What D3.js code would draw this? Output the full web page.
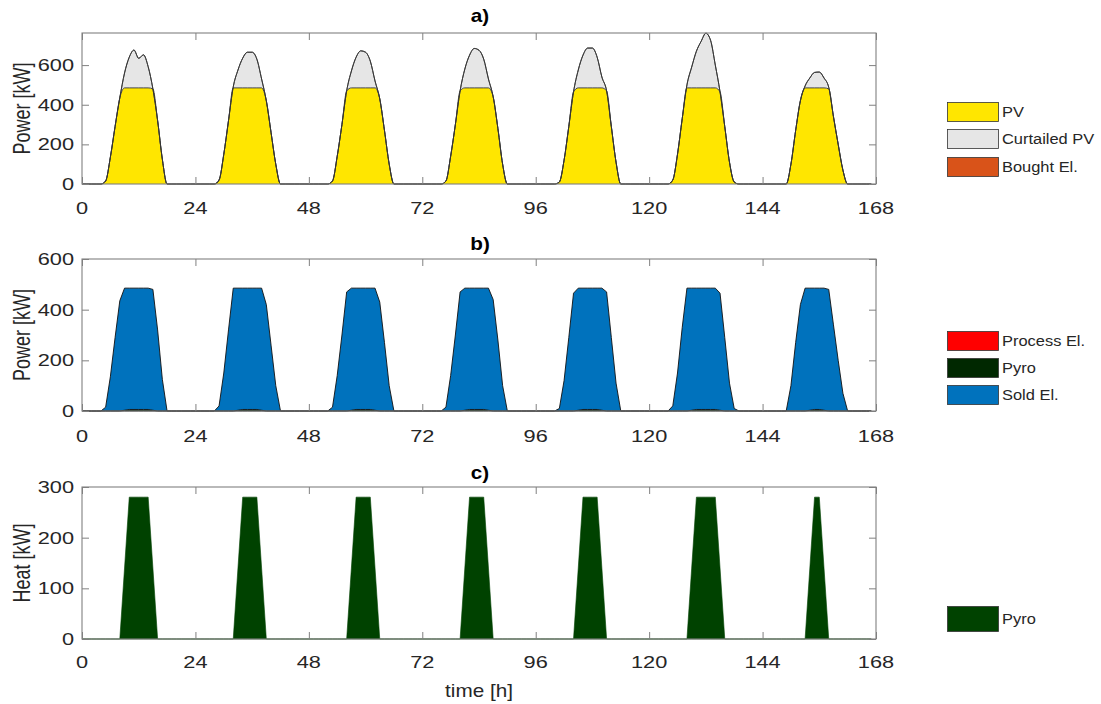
<!DOCTYPE html>
<html><head><meta charset="utf-8">
<script src="https://cdn.jsdelivr.net/npm/d3@7"></script>
<style>body{margin:0;background:#fff} text{font-family:"Liberation Sans",Arial,sans-serif;fill:#262626}</style>
</head><body><svg id="chart" width="1101" height="704"></svg>
<script>
// ---- data (hourly, hours of day 4..19 for each of the 7 days; all other hours are 0) ----
const hoursOfDay = [4,5,6,7,8,9,10,11,12,13,14,15,16,17,18,19];
const xTicks = [0,24,48,72,96,120,144,168];

const pvUsed = [
  [0,15,135,290,435,485,485,485,485,485,485,480,320,125,0,0],
  [0,20,150,320,485,485,485,485,485,485,485,420,260,100,0,0],
  [0,15,140,300,470,485,485,485,485,485,485,430,270,100,0,0],
  [0,15,140,300,470,485,485,485,485,485,485,440,280,100,0,0],
  [0,10,120,290,465,485,485,485,485,485,485,470,290,110,0,0],
  [0,20,150,330,485,485,485,485,485,485,485,465,290,110,10,0],
  [0,0,100,270,420,485,485,485,485,485,480,340,200,70,0,0]
];
const curtailedPV = [
  [0,0,0,0,0,75,155,191,149,167,107,0,0,0,0,0],
  [0,0,0,0,5,90,150,180,180,145,45,0,0,0,0,0],
  [0,0,0,0,0,85,155,187,180,135,35,0,0,0,0,0],
  [0,0,0,0,0,95,165,199,190,145,45,0,0,0,0,0],
  [0,0,0,0,0,90,165,201,201,155,55,0,0,0,0,0],
  [0,0,0,0,15,105,185,235,276,240,115,0,0,0,0,0],
  [0,0,0,0,0,10,50,78,80,50,8,0,0,0,0,0]
];
const boughtEl = [
  [0,0,0,0,0,0,0,0,0,0,0,0,0,0,0,0],[0,0,0,0,0,0,0,0,0,0,0,0,0,0,0,0],
  [0,0,0,0,0,0,0,0,0,0,0,0,0,0,0,0],[0,0,0,0,0,0,0,0,0,0,0,0,0,0,0,0],
  [0,0,0,0,0,0,0,0,0,0,0,0,0,0,0,0],[0,0,0,0,0,0,0,0,0,0,0,0,0,0,0,0],
  [0,0,0,0,0,0,0,0,0,0,0,0,0,0,0,0]
];
const processEl = [
  [0,0,0,0,0,0,0,0,0,0,0,0,0,0,0,0],[0,0,0,0,0,0,0,0,0,0,0,0,0,0,0,0],
  [0,0,0,0,0,0,0,0,0,0,0,0,0,0,0,0],[0,0,0,0,0,0,0,0,0,0,0,0,0,0,0,0],
  [0,0,0,0,0,0,0,0,0,0,0,0,0,0,0,0],[0,0,0,0,0,0,0,0,0,0,0,0,0,0,0,0],
  [0,0,0,0,0,0,0,0,0,0,0,0,0,0,0,0]
];
const pyroEl = [
  [0,0,0,0,0,3,6,6,6,6,6,3,0,0,0,0],
  [0,0,0,0,0,3,6,6,6,6,3,0,0,0,0,0],
  [0,0,0,0,0,3,6,6,6,6,3,0,0,0,0,0],
  [0,0,0,0,0,3,6,6,6,6,3,0,0,0,0,0],
  [0,0,0,0,0,3,6,6,6,6,3,0,0,0,0,0],
  [0,0,0,0,0,3,6,6,6,6,6,3,0,0,0,0],
  [0,0,0,0,0,0,3,6,6,3,0,0,0,0,0,0]
];
const soldEl = [
  [0,15,135,290,435,482,479,479,479,479,479,477,320,125,0,0],
  [0,20,150,320,485,482,479,479,479,479,482,420,260,100,0,0],
  [0,15,140,300,470,482,479,479,479,479,482,430,270,100,0,0],
  [0,15,140,300,470,482,479,479,479,479,482,440,280,100,0,0],
  [0,10,120,290,465,482,479,479,479,479,482,470,290,110,0,0],
  [0,20,150,330,485,482,479,479,479,479,479,462,290,110,10,0],
  [0,0,100,270,420,485,482,479,479,482,480,340,200,70,0,0]
];
const pyroHeat = [
  [0,0,0,0,0,140,280,280,280,280,280,140,0,0,0,0],
  [0,0,0,0,0,140,280,280,280,280,140,0,0,0,0,0],
  [0,0,0,0,0,140,280,280,280,280,140,0,0,0,0,0],
  [0,0,0,0,0,140,280,280,280,280,140,0,0,0,0,0],
  [0,0,0,0,0,140,280,280,280,280,140,0,0,0,0,0],
  [0,0,0,0,0,140,280,280,280,280,280,140,0,0,0,0],
  [0,0,0,0,0,0,140,280,280,140,0,0,0,0,0,0]
];

// place the daily values on the 168-hour week
function expand(days){
  const s = new Array(168).fill(0);
  days.forEach((vals,d)=>vals.forEach((v,i)=>{ s[d*24+hoursOfDay[i]] = v; }));
  return s;
}
const hours = d3.range(168);

const svg = d3.select('#chart');
const X = d3.scaleLinear().domain([0,168]).range([82,876]);

const panels = [
  {title:'a)', titleY:22, top:33, bottom:184, ymax:762, yticks:[0,200,400,600], ylabel:'Power [kW]',
   curve:d3.curveMonotoneX, labelY:214,
   layers:[{name:'PV',data:pvUsed,color:'#FFE600'},{name:'Curtailed PV',data:curtailedPV,color:'#E6E6E6'},{name:'Bought El.',data:boughtEl,color:'#D95319'}],
   legend:{y:[102,129,157],h:19}},
  {title:'b)', titleY:250, top:259, bottom:411, ymax:600, yticks:[0,200,400,600], ylabel:'Power [kW]',
   curve:d3.curveLinear, labelY:442,
   layers:[{name:'Process El.',data:processEl,color:'#FF0000'},{name:'Pyro',data:pyroEl,color:'#002800'},{name:'Sold El.',data:soldEl,color:'#0072BD'}],
   legend:{y:[331,358,385],h:19}},
  {title:'c)', titleY:479, top:487, bottom:639, ymax:300, yticks:[0,100,200,300], ylabel:'Heat [kW]',
   curve:d3.curveLinear, labelY:668, noEdge:true,
   layers:[{name:'Pyro',data:pyroHeat,color:'#004200'}],
   legend:{y:[606],h:25}}
];

function txt(g, x, y, str, o){
  const t = g.append('text')
    .attr('transform', `translate(${x},${y}) scale(${o.sx||1},1)` + (o.rotate?` rotate(${o.rotate})`:''))
    .attr('text-anchor', o.anchor||'middle')
    .style('font-size', (o.size||16)+'px')
    .text(str);
  if (o.weight) t.style('font-weight', o.weight).style('fill', o.fill||'#000');
  return t;
}

const axisColor = '#808080';
panels.forEach(p=>{
  const Y = d3.scaleLinear().domain([0,p.ymax]).range([p.bottom,p.top]);
  const keys = p.layers.map(l=>l.name);
  const series = p.layers.map(l=>expand(l.data));
  const rows = hours.map(h=>{ const r={t:h}; keys.forEach((k,i)=>r[k]=series[i][h]); return r; });
  const stacked = d3.stack().keys(keys)(rows);
  const g = svg.append('g');
  const area = d3.area().x(d=>X(d.data.t)).y0(d=>Y(d[0])).y1(d=>Y(d[1])).curve(p.curve);
  const line = d3.line().x(d=>X(d.data.t)).y(d=>Y(d[1])).curve(p.curve);
  stacked.forEach((s,i)=>{
    g.append('path').attr('d', area(s)).attr('fill', p.layers[i].color).attr('stroke', p.noEdge? p.layers[i].color : 'none').attr('stroke-width',0.6);
  });
  if (!p.noEdge) stacked.forEach((s,i)=>{
    g.append('path').attr('d', line(s)).attr('fill','none').attr('stroke', p.title==='a)' ? '#333' : '#111').attr('stroke-width',0.9);
  });

  // axes box
  g.append('rect').attr('x',X(0)).attr('y',p.top).attr('width',X(168)-X(0)).attr('height',p.bottom-p.top)
    .attr('fill','none').attr('stroke',axisColor).attr('stroke-width',1.1);
  // x ticks (inside, bottom and top)
  const xb = g.append('g').attr('transform',`translate(0,${p.bottom})`)
    .call(d3.axisBottom(X).tickValues(xTicks).tickSize(-7).tickFormat(''));
  const xt = g.append('g').attr('transform',`translate(0,${p.top})`)
    .call(d3.axisTop(X).tickValues(xTicks).tickSize(-7).tickFormat(''));
  const yl = g.append('g').attr('transform',`translate(${X(0)},0)`)
    .call(d3.axisLeft(Y).tickValues(p.yticks).tickSize(-7).tickFormat(''));
  const yr = g.append('g').attr('transform',`translate(${X(168)},0)`)
    .call(d3.axisRight(Y).tickValues(p.yticks).tickSize(-7).tickFormat(''));
  [xb,xt,yl,yr].forEach(a=>{ a.select('.domain').remove(); a.selectAll('line').attr('stroke',axisColor); });

  xTicks.forEach(v=> txt(g, X(v), p.labelY, String(v), {size:17, sx:1.28}));
  p.yticks.forEach(v=> txt(g, 74, Y(v)+6, String(v), {size:17, sx:1.28, anchor:'end'}));
  txt(g, 30, (p.top+p.bottom)/2, p.ylabel, {size:18, sx:1.3, rotate:-90});
  txt(g, 480, p.titleY, p.title, {size:18, sx:1.15, weight:'bold'});

  // legend
  const lg = svg.append('g');
  p.layers.forEach((l,i)=>{
    const y = p.legend.y[i];
    lg.append('rect').attr('x',947.5).attr('y',y+0.5).attr('width',51).attr('height',p.legend.h)
      .attr('fill',l.color).attr('stroke','#333').attr('stroke-width',0.8);
    txt(lg, 1002, y+p.legend.h/2+5.5, l.name, {size:15.5, sx:1.06, anchor:'start'});
  });
});

txt(svg, 479, 697, 'time [h]', {size:18, sx:1.15});
</script></body></html>
